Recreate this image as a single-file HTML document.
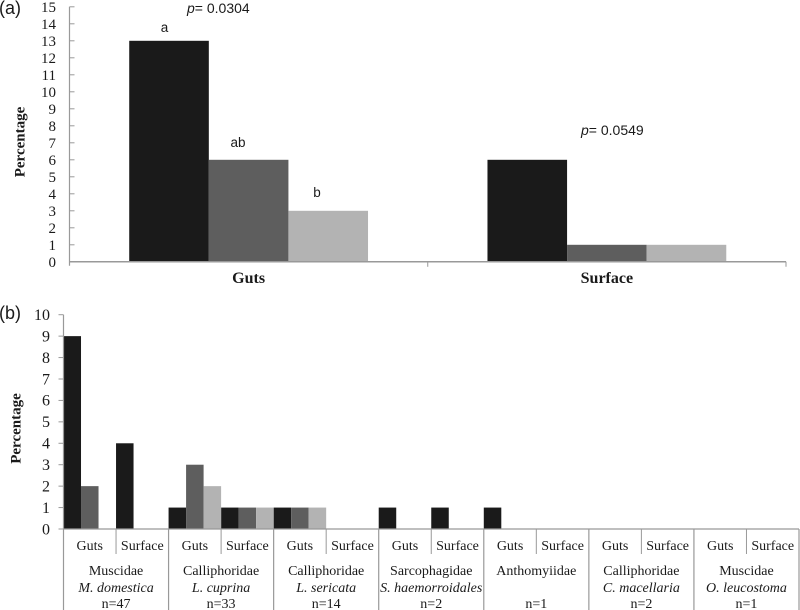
<!DOCTYPE html>
<html>
<head>
<meta charset="utf-8">
<style>
html,body{margin:0;padding:0;background:#fff;width:800px;height:610px;overflow:hidden}
svg{display:block}
text{fill:#1a1a1a}
.serif{font-family:"Liberation Serif",serif}
.sans{font-family:"Liberation Sans",sans-serif}
</style>
</head>
<body>
<svg id="chart" width="800" height="610" viewBox="0 0 800 610" xmlns="http://www.w3.org/2000/svg">
  <text class="sans" x="-1" y="14" font-size="18">(a)</text>
  <text class="sans" x="-1" y="319" font-size="18">(b)</text>
  <text class="serif" transform="translate(24.5,142) rotate(-90)" text-anchor="middle" font-size="15" font-weight="bold">Percentage</text>
  <text class="serif" transform="translate(20.5,428.5) rotate(-90)" text-anchor="middle" font-size="15" font-weight="bold">Percentage</text>
  <text class="sans" x="187" y="13" font-size="14"><tspan font-style="italic">p</tspan>= 0.0304</text>
  <text class="sans" x="581" y="135" font-size="14"><tspan font-style="italic">p</tspan>= 0.0549</text>
  <text class="sans" x="164.5" y="32" text-anchor="middle" font-size="13.5">a</text>
  <text class="sans" x="238" y="147" text-anchor="middle" font-size="13.5">ab</text>
  <text class="sans" x="317" y="197" text-anchor="middle" font-size="13.5">b</text>
</svg>
<script>
// Panel (a) data
const aCategories = ['Guts', 'Surface'];
const aSeries1 = [13, 6];
const aSeries2 = [6, 1];
const aSeries3 = [3, 1];
const aTicks = [0,1,2,3,4,5,6,7,8,9,10,11,12,13,14,15];

// Panel (b) data: each array has Guts, Surface per family
const bFamilies = ['Muscidae','Calliphoridae','Calliphoridae','Sarcophagidae','Anthomyiidae','Calliphoridae','Muscidae'];
const bSpecies = ['M. domestica','L. cuprina','L. sericata','S. haemorroidales','','C. macellaria','O. leucostoma'];
const bCounts = ['n=47','n=33','n=14','n=2','n=1','n=2','n=1'];
const bSubCategories = ['Guts','Surface'];
const bSeries1 = [9,4, 1,1, 1,0, 1,1, 1,0, 0,0, 0,0];
const bSeries2 = [2,0, 3,1, 1,0, 0,0, 0,0, 0,0, 0,0];
const bSeries3 = [0,0, 2,1, 1,0, 0,0, 0,0, 0,0, 0,0];
const bTicks = [0,1,2,3,4,5,6,7,8,9,10];

const svg = document.getElementById('chart');
const NS = 'http://www.w3.org/2000/svg';
const colors = ['#1a1a1a', '#5e5e5e', '#b3b3b3'];
const axisColor = '#999999';

function make(tag, props, content) {
  const el = document.createElementNS(NS, tag);
  for (const k in props) el.setAttribute(k, props[k]);
  if (content !== undefined) el.textContent = content;
  svg.appendChild(el);
  return el;
}
function line(x1, y1, x2, y2, w) {
  return make('line', {x1, y1, x2, y2, stroke: axisColor, 'stroke-width': w || 1});
}

// Panel (a) axes
const aX0 = 69.5, aX1 = 786, aY0 = 261.8, aUnit = 17;
const aY = v => aY0 - v * aUnit;
const aGroupW = (aX1 - aX0) / aCategories.length;
const aBarW = 79.6;
const aSeries = [aSeries1, aSeries2, aSeries3];

aSeries.forEach((vals, s) => {
  vals.forEach((v, i) => {
    const cx = aX0 + aGroupW * (i + 0.5);
    const bar = make('rect', {x: cx - 1.5 * aBarW + s * aBarW, y: aY(v), width: aBarW, height: v * aUnit, fill: colors[s]});
    
    
  });
});

const aYAxis = line(aX0, aY(15), aX0, aY0 + 4, 1.2);


const aXAxis = line(aX0, aY0, aX1, aY0, 1.5);



aTicks.forEach(t => {
  const tick = line(aX0, aY(t), aX0 + 5, aY(t));
  
  
  const label = make('text', {class: 'serif', x: 56, y: aY(t) + 5, 'text-anchor': 'end', 'font-size': 15}, t);
  
  
});
for (let i = 1; i <= aCategories.length; i++) {
  const tick = line(aX0 + aGroupW * i, aY0, aX0 + aGroupW * i, aY0 + 5);
  
  
}
aCategories.forEach((c, i) => {
  const label = make('text', {class: 'serif', x: aX0 + aGroupW * (i + 0.5), y: 283, 'text-anchor': 'middle', 'font-size': 16, 'font-weight': 'bold'}, c);
  
  
});

// Panel (b) axes
const bX0 = 63.5, bX1 = 799, bY0 = 529, bUnit = 21.43;
const bY = v => bY0 - v * bUnit;
const bGroupW = (bX1 - bX0) / bFamilies.length;
const bSubW = bGroupW / 2;
const bBarW = bSubW / 3;
const bSeries = [bSeries1, bSeries2, bSeries3];

bSeries.forEach((vals, s) => {
  vals.forEach((v, i) => {
    if (v === 0) return;
    const bar = make('rect', {x: bX0 + i * bSubW + s * bBarW, y: bY(v), width: bBarW, height: v * bUnit, fill: colors[s]});
    
    
  });
});

const bYAxis = line(bX0, bY(10), bX0, bY0, 1.2);


const bXAxis = line(bX0, bY0, bX1, bY0, 1.3);



bTicks.forEach(t => {
  const tick = line(bX0 - 5, bY(t), bX0, bY(t));
  
  
  const label = make('text', {class: 'serif', x: 50, y: bY(t) + 5.3, 'text-anchor': 'end', 'font-size': 16}, t);
  
  
});

for (let i = 0; i <= bFamilies.length; i++) {
  const sep = line(bX0 + bGroupW * i, bY0, bX0 + bGroupW * i, 610, 1.2);
  
  
}

bFamilies.forEach((fam, i) => {
  const gx = bX0 + bGroupW * i;
  const sub = line(gx + bSubW, bY0, gx + bSubW, 554);
  
  
  bSubCategories.forEach((c, j) => {
    const label = make('text', {class: 'serif', x: gx + bSubW * (j + 0.5), y: 550, 'text-anchor': 'middle', 'font-size': 14}, c);
    
    
  });
  const famLabel = make('text', {class: 'serif', x: gx + bGroupW / 2, y: 575, 'text-anchor': 'middle', 'font-size': 14}, fam);
  
  
  if (bSpecies[i]) {
    const spLabel = make('text', {class: 'serif', x: gx + bGroupW / 2, y: 592, 'text-anchor': 'middle', 'font-size': 14, 'font-style': 'italic'}, bSpecies[i]);
    
    
  }
  const nLabel = make('text', {class: 'serif', x: gx + bGroupW / 2, y: 608, 'text-anchor': 'middle', 'font-size': 14}, bCounts[i]);
  
  
});
</script>
</body>
</html>
